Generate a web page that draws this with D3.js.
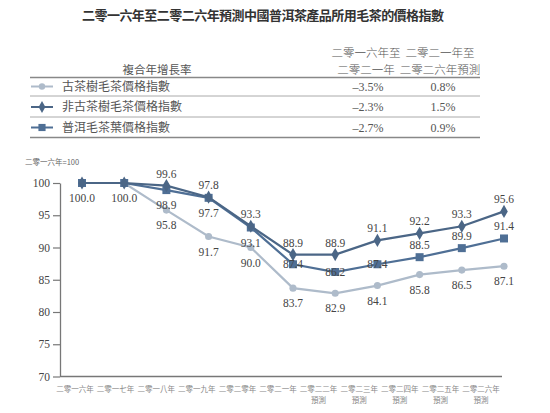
<!DOCTYPE html>
<html>
<head>
<meta charset="utf-8">
<script src="https://cdn.jsdelivr.net/npm/d3@7"></script>
<style>
  body { margin: 0; background: #fff; }
  text { font-family: "Liberation Serif", "Noto Sans CJK TC", serif; }
</style>
</head>
<body>
<svg id="chart" width="550" height="413"></svg>
<script>
// data
const years = ["二零一六年", "二零一七年", "二零一八年", "二零一九年", "二零二零年", "二零二一年",
    "二零二二年", "二零二三年", "二零二四年", "二零二五年", "二零二六年"];
const forecast = [false, false, false, false, false, false, true, true, true, true, true];
const seriesNames = ["古茶樹毛茶價格指數", "非古茶樹毛茶價格指數", "普洱毛茶葉價格指數"];
const ancientTree = [100.0, 100.0, 95.8, 91.7, 90.0, 83.7, 82.9, 84.1, 85.8, 86.5, 87.1];
const nonAncientTree = [100.0, 100.0, 99.6, 97.8, 93.3, 88.9, 88.9, 91.1, 92.2, 93.3, 95.6];
const puerOverall = [100.0, 100.0, 98.9, 97.7, 93.1, 87.4, 86.2, 87.4, 88.5, 89.9, 91.4];
const cagr1621 = ["–3.5%", "–2.3%", "–2.7%"];
const cagr2126 = ["0.8%", "1.5%", "0.9%"];
const yTicks = [70, 75, 80, 85, 90, 95, 100];
// where each value label sits: a = above, b = below, o = on the point, "" = none
const ancientLabelPos = ["", "", "b", "b", "b", "b", "b", "b", "b", "b", "b"];
const nonAncientLabelPos = ["", "", "a", "a", "a", "a", "a", "a", "a", "a", "a"];
const puerLabelPos = ["b", "b", "b", "b", "b", "o", "o", "o", "a", "a", "a"];

const svg = d3.select("#chart");

const colors = ["#aebbca", "#4b6686", "#4f6f95"];
const shapes = [d3.symbolCircle, d3.symbolDiamond, d3.symbolSquare];
const shapeSize = [40, 50, 64];

// title
svg.append("text")
    .attr("x", 263).attr("y", 20)
    .attr("text-anchor", "middle")
    .attr("font-size", 13)
    .attr("font-weight", "bold")
    .attr("textLength", 362)
    .attr("lengthAdjust", "spacing")
    .attr("fill", "#333")
    .style("font-family", "'Noto Sans CJK TC', serif")
    .text("二零一六年至二零二六年預測中國普洱茶產品所用毛茶的價格指數");

// table / legend
const tbl = svg.append("g").attr("fill", "#555").style("font-family", "'Noto Sans CJK TC', serif");
const colX = [366, 440];
tbl.append("text").attr("x", 157).attr("y", 74).attr("text-anchor", "middle").attr("font-size", 11.5).text("複合年增長率");
[["二零一六年至", "二零二一年"], ["二零二一年至", "二零二六年預測"]].forEach((h, i) => {
    h.forEach((line, j) => {
        tbl.append("text").attr("x", colX[i]).attr("y", 57 + j * 17)
            .attr("text-anchor", "middle").attr("font-size", 11.5).attr("font-weight", 300).text(line);
    });
});

const rowY = d3.scalePoint().domain(seriesNames).range([86.5, 127.5]);
const ruleY = [77.5, 96, 117, 137.5];
ruleY.forEach((ry, i) => {
    tbl.append("line").attr("x1", 30).attr("x2", 480).attr("y1", ry).attr("y2", ry)
        .attr("stroke", (i === 0 || i === 3) ? "#888" : "#aaa")
        .attr("stroke-width", (i === 0 || i === 3) ? 1.6 : 1);
});
seriesNames.forEach((name, i) => {
    const ry = rowY(name);
    tbl.append("line").attr("x1", 31).attr("x2", 53).attr("y1", ry).attr("y2", ry)
        .attr("stroke", colors[i]).attr("stroke-width", 2);
    tbl.append("path").attr("d", d3.symbol(shapes[i], shapeSize[i] * 0.8)())
        .attr("transform", `translate(42,${ry})`).attr("fill", colors[i]);
    tbl.append("text").attr("x", 62).attr("y", ry + 4).attr("font-size", 12).text(name);
    tbl.append("text").attr("x", colX[0] + 2).attr("y", ry + 4).attr("text-anchor", "middle")
        .attr("font-size", 12).style("font-family", "'Liberation Serif', serif").text(cagr1621[i]);
    tbl.append("text").attr("x", colX[1] + 3).attr("y", ry + 4).attr("text-anchor", "middle")
        .attr("font-size", 12).style("font-family", "'Liberation Serif', serif").text(cagr2126[i]);
});

// chart
const x = d3.scalePoint().domain(years).range([82, 504]);
const xLabel = d3.scalePoint().domain(years).range([75, 481]);
const y = d3.scaleLinear().domain([70, 100]).range([376.5, 183]);

svg.append("text").attr("x", 25).attr("y", 165).attr("font-size", 7.5).attr("fill", "#666")
    .style("font-family", "'Noto Sans CJK TC', serif").text("二零一六年=100");

const yAxis = svg.append("g").attr("transform", "translate(60,0)")
    .call(d3.axisLeft(y).tickValues(yTicks).tickSize(7).tickSizeOuter(0).tickPadding(3));
yAxis.select(".domain").attr("stroke", "#777").attr("stroke-width", 1.3);
yAxis.selectAll(".tick line").attr("stroke", "#777").attr("stroke-width", 1.2);
yAxis.selectAll(".tick text").attr("font-size", 11.5).attr("fill", "#444")
    .style("font-family", "'Liberation Serif', serif");

svg.append("line").attr("x1", 60).attr("x2", 502).attr("y1", y(70)).attr("y2", y(70))
    .attr("stroke", "#777").attr("stroke-width", 1.3);

const xl = svg.append("g").attr("fill", "#888").attr("font-size", 7.5)
    .style("font-family", "'Noto Sans CJK TC', serif");
years.forEach((yr, i) => {
    xl.append("text").attr("x", xLabel(yr)).attr("y", 392).attr("text-anchor", "middle").text(yr);
    if (forecast[i]) {
        xl.append("text").attr("x", xLabel(yr)).attr("y", 403).attr("text-anchor", "middle").text("預測");
    }
});

const series = [ancientTree, nonAncientTree, puerOverall];
const labelPos = [ancientLabelPos, nonAncientLabelPos, puerLabelPos];
const line = d3.line().x((d, i) => x(years[i])).y(d => y(d));

// draw ancient tree first (behind), then puer, then non-ancient on top
[0, 2, 1].forEach(si => {
    const vals = series[si];
    svg.append("path").datum(vals).attr("d", line)
        .attr("fill", "none").attr("stroke", colors[si]).attr("stroke-width", 2.2);
    svg.selectAll(null).data(vals).join("path")
        .attr("d", d3.symbol(shapes[si], shapeSize[si])())
        .attr("transform", (d, i) => `translate(${x(years[i])},${y(d)})`)
        .attr("fill", colors[si]);
});

series.forEach((vals, si) => {
    const lbls = vals.map((v, i) => ({ v: v, year: years[i], pos: labelPos[si][i] }))
        .filter(d => d.pos !== "");
    svg.selectAll(null).data(lbls).join("text")
        .attr("x", d => x(d.year))
        .attr("y", d => y(d.v) + (d.pos === "a" ? -8 : d.pos === "b" ? 19 : 4))
        .attr("text-anchor", "middle")
        .attr("font-size", 11.5)
        .attr("fill", "#444")
        .text(d => d.v.toFixed(1));
});
</script>
</body>
</html>
